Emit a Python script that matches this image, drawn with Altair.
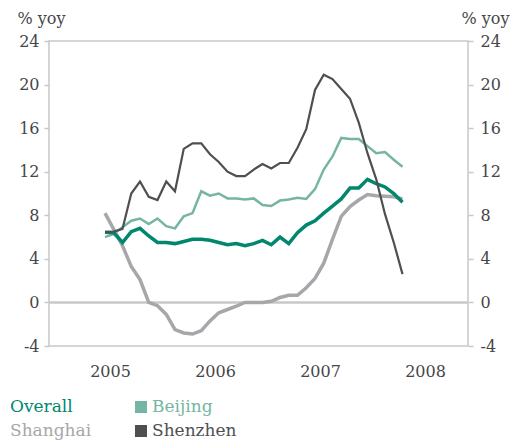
import altair as alt
import pandas as pd

FONT = "DejaVu Serif"

# ---- data (monthly, Jan 2005 .. Nov 2007) ----
start_year = 2005
n_months = 35
series_names = ["Overall", "Beijing", "Shanghai", "Shenzhen"]
overall = [6.45, 6.4, 5.5, 6.5, 6.8, 6.1, 5.5, 5.5, 5.4, 5.6, 5.8, 5.8, 5.7, 5.5, 5.3,
           5.4, 5.2, 5.4, 5.7, 5.3, 6.0, 5.4, 6.4, 7.1, 7.5, 8.2, 8.85, 9.5, 10.5, 10.5,
           11.3, 10.9, 10.6, 10.0, 9.2]
beijing = [6.0, 6.3, 6.9, 7.5, 7.7, 7.2, 7.7, 7.0, 6.8, 7.9, 8.2, 10.2, 9.8, 10.0, 9.55,
           9.55, 9.45, 9.55, 8.95, 8.85, 9.35, 9.45, 9.6, 9.5, 10.4, 12.2, 13.4, 15.1,
           15.0, 15.0, 14.35, 13.7, 13.8, 13.1, 12.45]
shanghai = [8.2, 6.7, 5.2, 3.3, 2.1, 0.0, -0.3, -1.1, -2.5, -2.8, -2.9, -2.6, -1.7, -0.95,
            -0.65, -0.35, 0.0, 0.0, 0.0, 0.1, 0.45, 0.65, 0.65, 1.35, 2.2, 3.6, 5.8, 7.9,
            8.8, 9.4, 9.9, 9.8, 9.75, 9.7, 9.5]
shenzhen = [6.45, 6.5, 6.75, 10.0, 11.1, 9.7, 9.4, 11.1, 10.2, 14.1, 14.6, 14.6, 13.6,
            12.9, 12.0, 11.6, 11.6, 12.2, 12.7, 12.3, 12.8, 12.8, 14.2, 15.9, 19.5, 20.9,
            20.5, 19.6, 18.7, 16.5, 13.7, 11.3, 8.1, 5.5, 2.6]
year_ticks = [2005, 2006, 2007, 2008]
y_ticks = [-4, 0, 4, 8, 12, 16, 20, 24]

# ---- styles ----
colors = {"Overall": "#00876e", "Beijing": "#76b5a3", "Shanghai": "#a6a7aa", "Shenzhen": "#4f4f52"}
widths = {"Overall": 3.5, "Beijing": 2.5, "Shanghai": 3.5, "Shenzhen": 2.2}
AXIS_GREY = "#c8c8c8"
TEXT = "#464648"

values = {"Overall": overall, "Beijing": beijing, "Shanghai": shanghai, "Shenzhen": shenzhen}
t = [start_year + i / 12 for i in range(n_months)]
rows = []
for name in series_names:
    for ti, v in zip(t, values[name]):
        rows.append({"t": ti, "v": v, "series": name})
df = pd.DataFrame(rows)

x_scale = alt.Scale(domain=[2004.4667, 2008.4571], nice=False, zero=False)
y_scale = alt.Scale(domain=[-4, 24], nice=False, zero=False)

x_axis = alt.Axis(values=year_ticks, labelExpr="datum.value + ''", tickSize=0,
                  labelPadding=17, labelOffset=5, labelFlush=False, title=None,
                  domain=False, grid=False)
y_left = alt.Axis(orient="left", values=y_ticks, labelExpr="datum.value + ''",
                  tickSize=5, labelPadding=5, title="% yoy", titleAngle=0,
                  titleX=-32, titleY=-18, titleAlign="left", titleBaseline="alphabetic",
                  domain=False, grid=False)
y_right = alt.Axis(orient="right", values=y_ticks, labelExpr="datum.value + ''",
                   tickSize=5, labelPadding=7, title="% yoy", titleAngle=0,
                   titleX=41, titleY=-18, titleAlign="right", titleBaseline="alphabetic",
                   domain=False, grid=False)

zero = alt.Chart(pd.DataFrame({"t": [2004.4667, 2008.4571], "v": [0, 0]})).mark_line(
    color=AXIS_GREY, strokeWidth=2.5
).encode(
    x=alt.X("t:Q", scale=x_scale, axis=x_axis),
    y=alt.Y("v:Q", scale=y_scale, axis=y_left),
)

draw_order = ["Shanghai", "Beijing", "Overall", "Shenzhen"]
layers = [zero]
for name in draw_order:
    axis_y = y_right if name == "Shenzhen" else None
    layers.append(
        alt.Chart(df[df.series == name]).mark_line(
            color=colors[name], strokeWidth=widths[name], strokeJoin="miter"
        ).encode(
            x=alt.X("t:Q", scale=x_scale, axis=None),
            y=alt.Y("v:Q", scale=y_scale, axis=axis_y),
        )
    )

# legend (2 columns x 2 rows), positions relative to plot origin
col_x = [-39, 103]
row_y = [366, 390]
for k, name in enumerate(series_names):
    cx = col_x[k % 2]
    ry = row_y[k // 2]
    layers.append(
        alt.Chart(pd.DataFrame({"a": [0]})).mark_square(size=144, opacity=1, color=colors[name]).encode(
            x=alt.value(cx - 11), y=alt.value(ry)
        )
    )
    layers.append(
        alt.Chart(pd.DataFrame({"a": [0]})).mark_text(
            align="left", baseline="middle", font=FONT, fontSize=17, color=colors[name]
        ).encode(x=alt.value(cx), y=alt.value(ry), text=alt.value(name))
    )

chart = alt.layer(*layers).resolve_axis(x="independent", y="independent").properties(
    width=419, height=305,
    autosize=alt.AutoSizeParams(type="none"),
    padding={"left": 41, "top": 33, "right": 46, "bottom": 96},
    background="white",
).configure_view(stroke=AXIS_GREY, strokeWidth=1.5).configure_axis(
    labelFont=FONT, labelFontSize=16, labelColor=TEXT,
    titleFont=FONT, titleFontSize=16, titleColor=TEXT, titleFontWeight="normal",
    tickColor=AXIS_GREY, tickWidth=1.5,
)

chart.save("out.html", embed_options={"renderer": "svg", "actions": False})
